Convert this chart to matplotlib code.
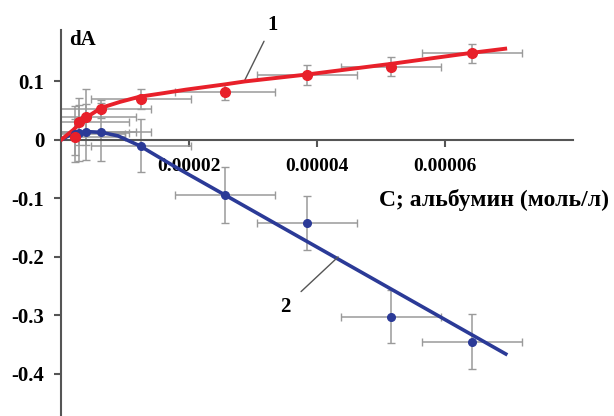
import matplotlib.pyplot as plt
import numpy as np

# concentrations (mol/l) and measured dA
conc = np.array([2.2e-6, 2.8e-6, 3.9e-6, 6.3e-6, 1.25e-5, 2.56e-5, 3.84e-5, 5.15e-5, 6.42e-5])
dA_1 = np.array([0.005, 0.031, 0.039, 0.053, 0.070, 0.082, 0.111, 0.125, 0.148])
dA_2 = np.array([0.010, 0.012, 0.013, 0.014, -0.010, -0.094, -0.142, -0.302, -0.345])
yerr_1 = np.array([0.030, 0.040, 0.048, 0.015, 0.017, 0.014, 0.017, 0.016, 0.016])
yerr_2 = np.array([0.048, 0.048, 0.048, 0.050, 0.045, 0.048, 0.046, 0.046, 0.047])
xerr = 7.8e-6

# trend lines
fit1_x = np.array([0, 1.9, 3.9, 6.3, 9.2, 12.3, 16.0, 19.5, 25.6, 28.7, 38.5, 51.5, 64.2, 69.4]) * 1e-6
fit1_y = np.array([0, 0.017, 0.038, 0.055, 0.065, 0.074, 0.080, 0.086, 0.095, 0.100, 0.112, 0.130, 0.149, 0.156])
fit2_x = np.array([0, 1.5, 2.7, 4.5, 6.3, 8.9, 12.3, 18.0, 25.6, 69.5]) * 1e-6
fit2_y = np.array([0, 0.009, 0.012, 0.014, 0.013, 0.007, -0.010, -0.047, -0.094, -0.366])

red = '#e8202a'
blue = '#2b3a97'
grey = '#9a9a9a'
axis_col = '#555555'
font = 'Liberation Serif'

fig = plt.figure(figsize=(6.14, 4.16), dpi=100)
ax = fig.add_axes([61 / 614, 0.0, 512 / 614, 386 / 416])

# error bars
ax.errorbar(conc, dA_2, xerr=xerr, yerr=yerr_2, fmt='none', ecolor=grey, elinewidth=1.1, capsize=3, zorder=2)
ax.errorbar(conc, dA_1, xerr=xerr, yerr=yerr_1, fmt='none', ecolor=grey, elinewidth=1.1, capsize=3, zorder=2)

# trend lines
ax.plot(fit2_x, fit2_y, color=blue, lw=2.6, zorder=3)
ax.plot(fit1_x, fit1_y, color=red, lw=2.8, zorder=4)

# points
ax.plot(conc, dA_2, 'o', color=blue, ms=5.5, zorder=5)
ax.plot(conc, dA_1, 'o', color=red, ms=7, zorder=6)

ax.set_xlim(0, 8e-5)
ax.set_ylim(-0.472, 0.188)

ax.spines['left'].set_position(('data', 0))
ax.spines['bottom'].set_position(('data', 0))
ax.spines['right'].set_visible(False)
ax.spines['top'].set_visible(False)
for s in ['left', 'bottom']:
    ax.spines[s].set_color(axis_col)
    ax.spines[s].set_linewidth(1.5)

ax.set_xticks([2e-5, 4e-5, 6e-5])
ax.set_xticklabels(['0.00002', '0.00004', '0.00006'])
ax.set_yticks([0.1, 0, -0.1, -0.2, -0.3, -0.4])
ax.set_yticklabels(['0.1', '0', '-0.1', '-0.2', '-0.3', '-0.4'])
ax.tick_params(axis='x', direction='out', length=5, width=1.5, color=axis_col, pad=8)
ax.tick_params(axis='y', direction='out', length=5, width=1.5, color=axis_col, pad=7)
for lab in ax.get_xticklabels():
    lab.set_fontfamily(font)
    lab.set_fontweight('bold')
    lab.set_fontsize(14)
for lab in ax.get_yticklabels():
    lab.set_fontfamily(font)
    lab.set_fontweight('bold')
    lab.set_fontsize(15)

ax.text(3.3e-6, 0.171, 'dA', fontfamily=font, fontweight='bold', fontsize=15,
        ha='center', va='center', clip_on=False)
ax.text(8.56e-5, -0.102, 'C; альбумин (моль/л)', fontfamily=font, fontweight='bold',
        fontsize=17, ha='right', va='center', clip_on=False)

ax.annotate('1', xy=(2.875e-5, 0.103), xytext=(3.3e-5, 0.197), fontfamily=font,
            fontweight='bold', fontsize=15, ha='center', va='center',
            arrowprops=dict(arrowstyle='-', color='#555555', lw=1, shrinkA=3, shrinkB=0),
            annotation_clip=False)
ax.annotate('2', xy=(4.33e-5, -0.2), xytext=(3.5e-5, -0.285), fontfamily=font,
            fontweight='bold', fontsize=15, ha='center', va='center',
            arrowprops=dict(arrowstyle='-', color='#555555', lw=1, shrinkA=8, shrinkB=0),
            annotation_clip=False)

fig.savefig('out.png', dpi=100)
